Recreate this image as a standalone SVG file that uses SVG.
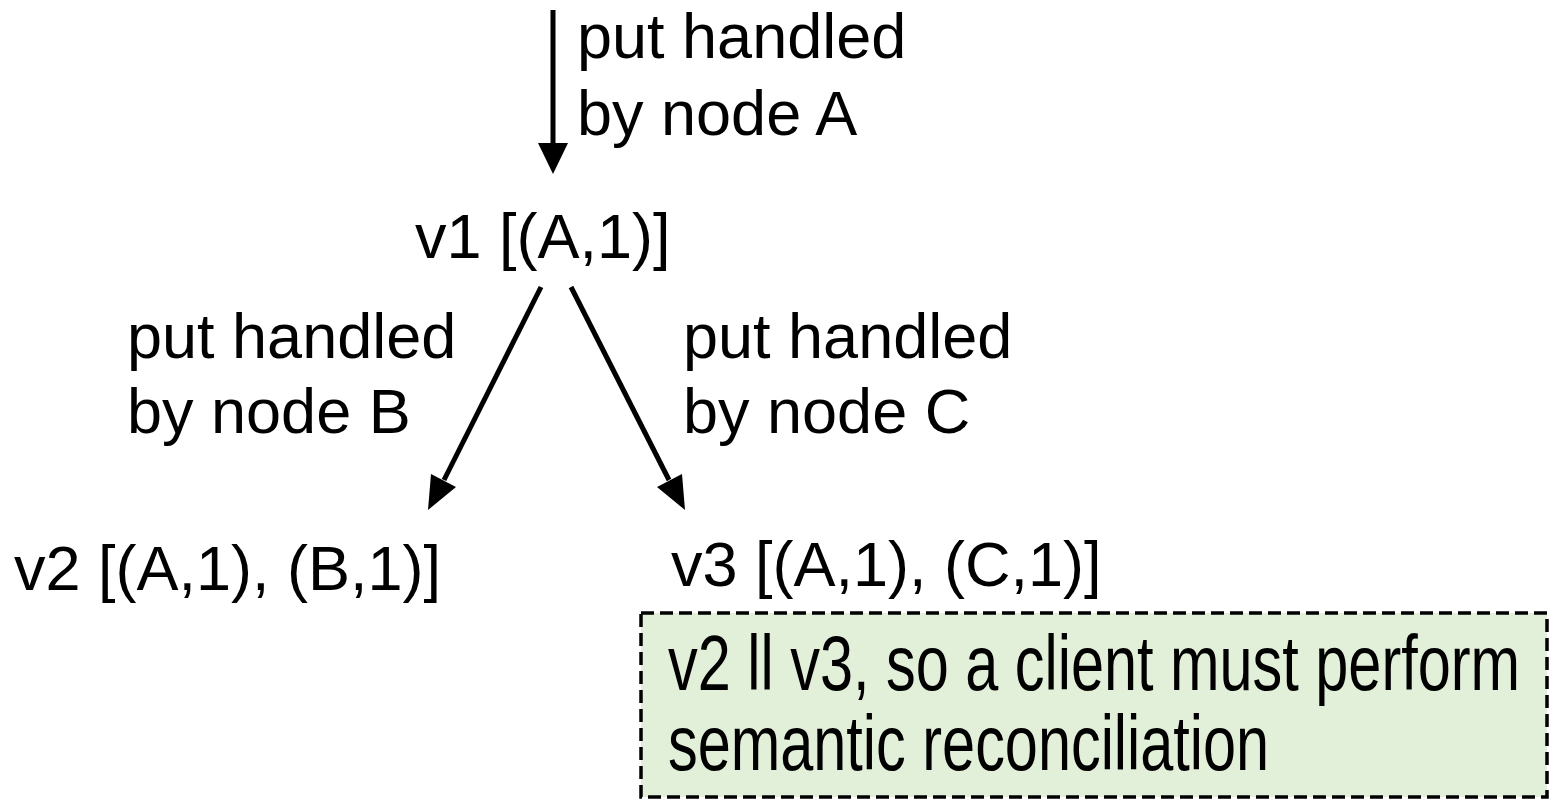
<svg xmlns="http://www.w3.org/2000/svg" width="1550" height="801" viewBox="0 0 1550 801">
  <style>
    text { font-family: "Liberation Sans", Arial, Helvetica, sans-serif; fill: #000; }
    .lbl { font-size: 63px; }
    .note { font-size: 78px; }
    .edge { stroke: #000; stroke-width: 5; fill: none; }
    .head { fill: #000; stroke: none; }
  </style>
  <rect width="1550" height="801" fill="#fff"/>

  <!-- connectors: shafts plus filled triangular heads -->
  <g id="connectors">
    <line class="edge" x1="553" y1="10" x2="553" y2="146"/>
    <polygon class="head" points="538,143 568,143 553,174"/>
    <line class="edge" x1="541" y1="287" x2="444" y2="480"/>
    <polygon class="head" points="456,487 431,474 428,510"/>
    <line class="edge" x1="571" y1="287" x2="669" y2="480"/>
    <polygon class="head" points="682,474 657,487 685,510"/>
  </g>

  <g id="label-a">
    <text class="lbl" x="577" y="58">put handled</text>
    <text class="lbl" x="577" y="135">by node A</text>
  </g>
  <g id="label-b">
    <text class="lbl" x="127" y="358">put handled</text>
    <text class="lbl" x="127" y="433">by node B</text>
  </g>
  <g id="label-c">
    <text class="lbl" x="683" y="358">put handled</text>
    <text class="lbl" x="683" y="433">by node C</text>
  </g>

  <g id="v1">
    <text class="lbl" x="415" y="258">v1 [(A,1)]</text>
  </g>
  <g id="v2">
    <text class="lbl" x="14" y="590">v2 [(A,1), (B,1)]</text>
  </g>
  <g id="v3">
    <text class="lbl" x="671" y="586">v3 [(A,1), (C,1)]</text>
  </g>

  <g id="note">
    <rect x="641" y="613" width="906" height="184" fill="#e2efd9" stroke="#000" stroke-width="3.5" stroke-dasharray="13 6"/>
    <text class="note" transform="translate(668 690) scale(0.762 1)">v2 ll v3, so a client must perform</text>
    <text class="note" transform="translate(668 770) scale(0.762 1)">semantic reconciliation</text>
  </g>
</svg>
